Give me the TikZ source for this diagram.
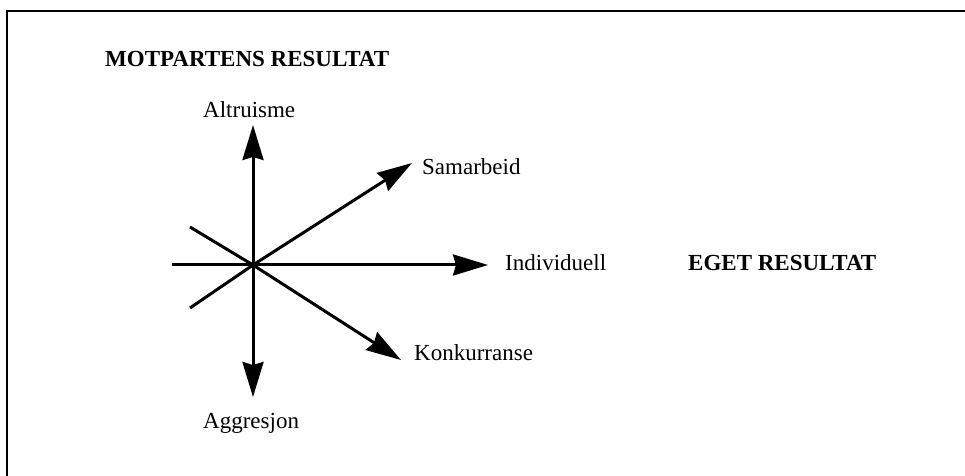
\documentclass[tikz,border=0pt]{standalone}
\usepackage{fontspec}
\setmainfont{Liberation Serif}
\usetikzlibrary{arrows.meta}
\tikzset{
  axisline/.style={line width=3bp, black},
  vec/.style={axisline, -{Stealth[length=35bp,width=21bp,inset=3bp]}},
  lbl/.style={anchor=base west, inner sep=0pt, font=\fontsize{23bp}{27bp}\selectfont},
  hdr/.style={lbl, font=\fontsize{23bp}{27bp}\selectfont\bfseries},
  frameline/.style={line width=2.5bp, black}
}
\begin{document}
\begin{tikzpicture}[x=1bp, y=-1bp]
  \useasboundingbox (0,0) rectangle (965,476);
  % open frame: top and left edges only
  \coordinate (fr0) at (7,11);
  \coordinate (fr1) at (965,11);
  \coordinate (fr2) at (7,476);
  \draw[frameline] (fr1) -- (fr0) -- (fr2);

  % origin and vector end points
  \coordinate (o) at (253,265);
  \coordinate (up) at (253,125);
  \coordinate (down) at (253,397);
  \coordinate (right) at (488,265);
  \coordinate (left) at (172,265);
  \coordinate (coop) at (412,163);
  \coordinate (comp) at (401,360);
  \coordinate (coopback) at (190,308);
  \coordinate (compback) at (190,227);

  % labels
  \node[hdr] (mot) at (105,67) {MOTPARTENS RESULTAT};
  \node[hdr] (eget) at (688,271) {EGET RESULTAT};
  \node[lbl] (altr) at (203,118) {Altruisme};
  \node[lbl] (samb) at (422,175) {Samarbeid};
  \node[lbl] (indiv) at (505,271) {Individuell};
  \node[lbl] (konk) at (414,361) {Konkurranse};
  \node[lbl] (aggr) at (203,428) {Aggresjon};

  % axes and vectors
  \draw[axisline] (left) -- (o);
  \draw[axisline] (coopback) -- (o);
  \draw[axisline] (compback) -- (o);
  \draw[vec] (o) -- (up);
  \draw[vec] (o) -- (down);
  \draw[vec] (o) -- (right);
  \draw[vec] (o) -- (coop);
  \draw[vec] (o) -- (comp);
\end{tikzpicture}
\end{document}
